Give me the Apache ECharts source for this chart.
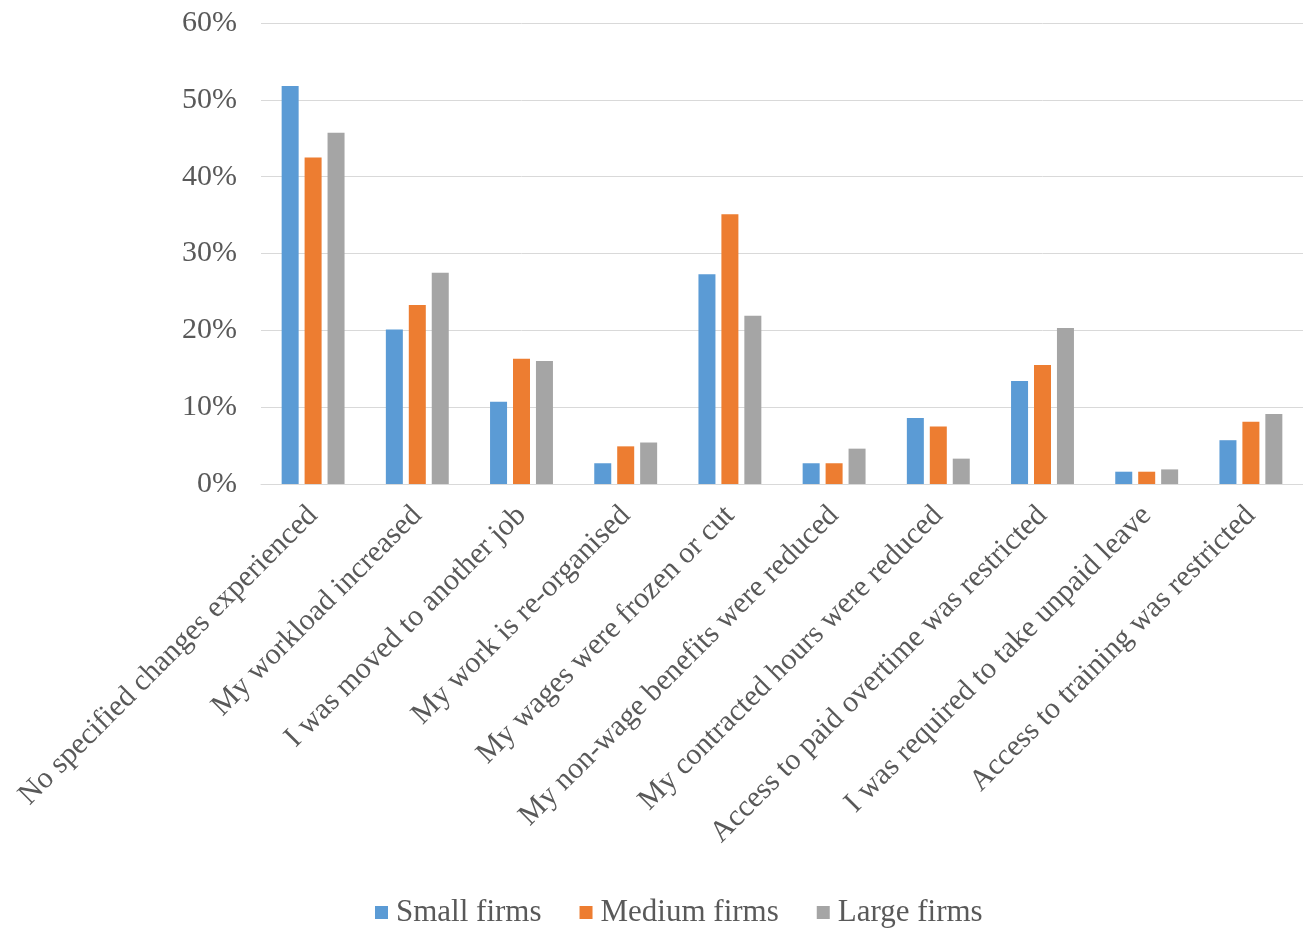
<!DOCTYPE html>
<html><head><meta charset="utf-8">
<script src="https://cdn.jsdelivr.net/npm/echarts@6/dist/echarts.min.js"></script>
<style>html,body{margin:0;padding:0;background:#fff}#c{width:1303px;height:929px}</style>
</head><body><div id="c"></div>
<script>
const categories = [
  "No specified changes experienced",
  "My workload increased",
  "I was moved to another job",
  "My work is re-organised",
  "My wages were frozen or cut",
  "My non-wage benefits were reduced",
  "My contracted hours were reduced",
  "Access to paid overtime was restricted",
  "I was required to take unpaid leave",
  "Access to training was restricted"
];
const smallFirms  = [51.8, 20.1, 10.7, 2.7, 27.3, 2.7, 8.6, 13.4, 1.6, 5.7];
const mediumFirms = [42.5, 23.3, 16.3, 4.9, 35.1, 2.7, 7.5, 15.5, 1.6, 8.1];
const largeFirms  = [45.7, 27.5, 16.0, 5.4, 21.9, 4.6, 3.3, 20.3, 1.9, 9.1];
const seriesNames = ["Small firms", "Medium firms", "Large firms"];
const colors = ["#5b9bd5", "#ed7d31", "#a5a5a5"];

const font = "Liberation Serif";
const chart = echarts.init(document.getElementById('c'));
const mk = (name, data, color) => ({
  name, type: 'bar', data,
  itemStyle: { color },
  barWidth: 17, barGap: '35%'
});
chart.setOption({
  animation: false,
  color: colors,
  grid: { left: 261, right: 0, top: 23, bottom: 445, containLabel: false },
  legend: {
    bottom: -4, left: 370,
    itemWidth: 13, itemHeight: 13, itemGap: 38,
    icon: 'rect',
    textStyle: { fontFamily: font, fontSize: 31, color: '#595959', padding: [0, 0, 0, 3] },
    data: seriesNames
  },
  xAxis: {
    type: 'category', data: categories,
    axisLine: { lineStyle: { color: '#d9d9d9', width: 1 } },
    axisTick: { show: false },
    axisLabel: { rotate: 45, interval: 0, margin: 27, fontFamily: font, fontSize: 30, color: '#595959' }
  },
  yAxis: {
    type: 'value', min: 0, max: 60, interval: 10,
    axisLine: { show: false }, axisTick: { show: false },
    splitLine: { lineStyle: { color: '#d9d9d9', width: 1 } },
    axisLabel: { formatter: '{value}%', fontFamily: font, fontSize: 30, color: '#595959', margin: 24 }
  },
  series: [
    mk(seriesNames[0], smallFirms, colors[0]),
    mk(seriesNames[1], mediumFirms, colors[1]),
    mk(seriesNames[2], largeFirms, colors[2])
  ]
});
</script></body></html>
